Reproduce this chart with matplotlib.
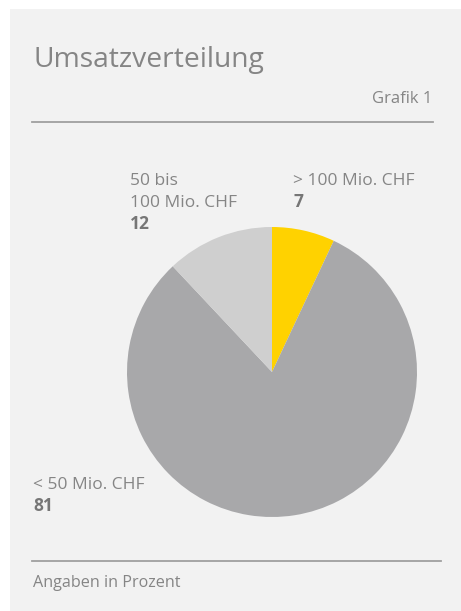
import matplotlib
matplotlib.use("Agg")
import matplotlib.pyplot as plt
from matplotlib.patches import Rectangle
from matplotlib.lines import Line2D

# Data
categories = ["> 100 Mio. CHF", "< 50 Mio. CHF", "50 bis\n100 Mio. CHF"]
values = [7, 81, 12]
colors = ["#ffd200", "#a8a8aa", "#cfcfcf"]

title = "Umsatzverteilung"
subtitle = "Grafik 1"
footer = "Angaben in Prozent"

W, H = 461, 611
plt.rcParams['font.family'] = ['Open Sans', 'DejaVu Sans']
fig = plt.figure(figsize=(W / 100, H / 100), dpi=100)
fig.patch.set_facecolor("white")

def fx(px):
    return px / W

def fy(py):
    return 1 - py / H

# panel background
fig.patches.append(Rectangle((fx(10), 0), 1 - fx(10), fy(9), transform=fig.transFigure,
                             facecolor="#f2f2f2", edgecolor="none", zorder=-10))

txt_col = "#858585"
num_col = "#767676"

fig.text(fx(33), fy(67), title, fontsize=20.3, color=txt_col, va="baseline", ha="left")
fig.text(fx(432), fy(103), subtitle, fontsize=12, color=txt_col, va="baseline", ha="right")
fig.lines.append(Line2D([fx(32), fx(433)], [fy(122), fy(122)], transform=fig.transFigure,
                        color="#a0a0a0", lw=1.3))
fig.lines.append(Line2D([fx(32), fx(441)], [fy(561), fy(561)], transform=fig.transFigure,
                        color="#a0a0a0", lw=1.3))
fig.text(fx(33), fy(587), footer, fontsize=11.6, color=txt_col, va="baseline", ha="left")

# pie
cx, cy, r = 272, 372, 145
ax = fig.add_axes([fx(cx - r), fy(cy + r), (2 * r) / W, (2 * r) / H], zorder=5)
ax.pie(values, colors=colors, startangle=90, counterclock=False, radius=1,
       wedgeprops=dict(linewidth=0))
ax.set_xlim(-1, 1)
ax.set_ylim(-1, 1)
ax.set_aspect("equal")
ax.axis("off")

lab_fs = 12.5
lh = 22
# label positions (px): (x, first baseline)
label_pos = [(293, 185), (33, 489), (130, 185)]
for cat, val, (lx, ly) in zip(categories, values, label_pos):
    lines = cat.split("\n")
    for i, line in enumerate(lines):
        fig.text(fx(lx), fy(ly + i * lh), line, fontsize=lab_fs, color=txt_col,
                 va="baseline", ha="left")
    fig.text(fx(lx), fy(ly + len(lines) * lh), str(val), fontsize=lab_fs, color=num_col,
             fontweight="bold", va="baseline", ha="left")

fig.savefig("out.png", dpi=100, facecolor=fig.get_facecolor())
